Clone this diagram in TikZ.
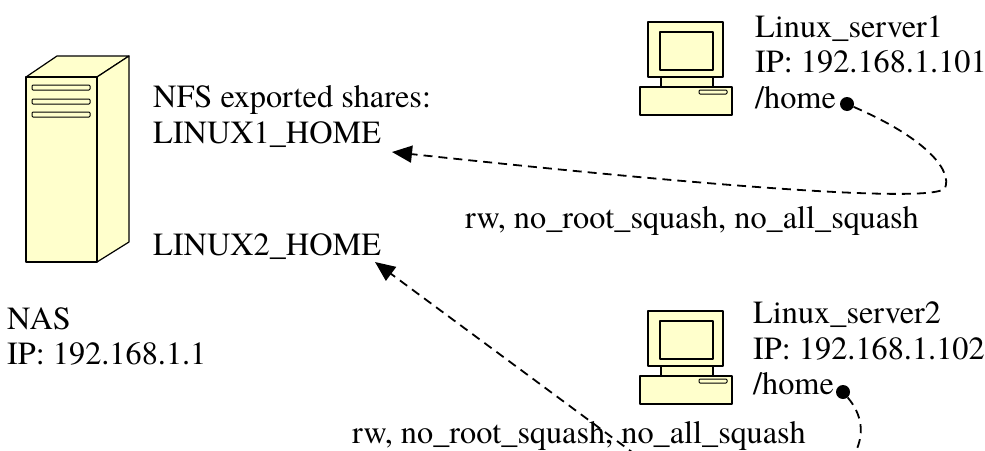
\documentclass[tikz,border=0pt]{standalone}
\usepackage{fontspec}
\setmainfont{texgyretermes-regular.otf}
\usetikzlibrary{arrows.meta}
\definecolor{boxyellow}{HTML}{FFFFCC}
\begin{document}
\begin{tikzpicture}[x=1pt, y=-1pt, line join=round, line cap=round,
		font=\fontsize{32.3}{36}\selectfont,
		unit/.style={draw, line width=1.2pt, fill=boxyellow},
		slot/.style={draw, line width=1pt, fill=boxyellow, rounded corners=1pt},
		lbl/.style={anchor=base west, inner sep=0pt},
		share/.style={circle, fill, inner sep=0pt, minimum size=14pt},
		link/.style={line cap=butt, dash pattern=on 9pt off 6pt, line width=1.8pt,
			-{Triangle[length=20pt, width=17pt]}}]
		\useasboundingbox (0,0) rectangle (985,450);
		\clip (0,0) rectangle (985,450);
		% NAS tower
		\draw[unit] (26,77) -- (57,56) -- (129,56) -- (97,77) -- cycle;
		\draw[unit] (97,77) -- (129,56) -- (129,242) -- (97,262) -- cycle;
		\draw[unit] (26,77) rectangle (97,262);
		\foreach \y in {85,99,112}
			\draw[slot] (32,\y) rectangle (90,\y+5);
		% the two servers
		\foreach \dy in {0,289} {
			\draw[unit] (648,22+\dy) rectangle (723,77+\dy);
			\draw[unit] (660,32+\dy) rectangle (713,70+\dy);
			\draw[unit] (661,77+\dy) rectangle (713,87+\dy);
			\draw[unit] (640,87+\dy) rectangle (732,115+\dy);
			\draw[slot] (699,90+\dy) rectangle (727,94+\dy);
		}
		% texts
		\node[lbl] (nfs) at (153,107) {NFS exported shares:};
		\node[lbl] (home1) at (153,143) {LINUX1\_HOME};
		\node[lbl] (home2) at (153,255) {LINUX2\_HOME};
		\node[lbl] (nas) at (7,329) {NAS};
		\node[lbl] (nasip) at (7,364) {IP: 192.168.1.1};
		\node[lbl] (srv1) at (755,37) {Linux\_server1};
		\node[lbl] (srv1ip) at (755,72) {IP: 192.168.1.101};
		\node[lbl] (srv1dir) at (755,108) {/home};
		\node[lbl] (srv2) at (753,323) {Linux\_server2};
		\node[lbl] (srv2ip) at (753,359) {IP: 192.168.1.102};
		\node[lbl] (srv2dir) at (753,394) {/home};
		\node[lbl] (opt1) at (465,228) {rw, no\_root\_squash, no\_all\_squash};
		\node[lbl] (opt2) at (352,443) {rw, no\_root\_squash, no\_all\_squash};
		% mounts
		\coordinate (in1) at (392,152);
		\coordinate (in2) at (375,262);
		\node[share] (dot1) at (847,104) {};
		\node[share] (dot2) at (843,392) {};
		\draw[link] (dot1) .. controls (930,140) and (952,172) .. (945,188)
			.. controls (938,200) and (800,196) .. (in1);
		\draw[link] (dot2) .. controls (905,465) and (760,547) .. (690,495) -- (in2);
\end{tikzpicture}
\end{document}
